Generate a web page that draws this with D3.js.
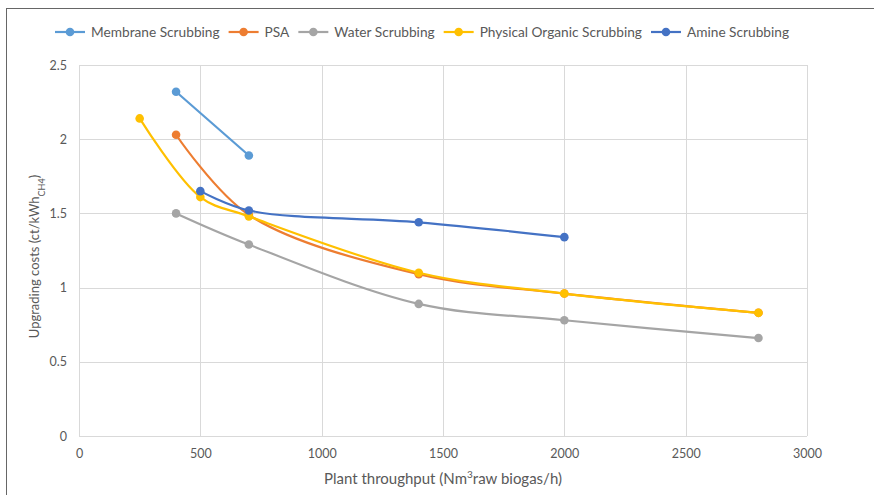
<!DOCTYPE html>
<html><head><meta charset="utf-8">
<script src="https://cdn.jsdelivr.net/npm/d3@7"></script>
<style>body{margin:0;background:#fff}svg{display:block}</style>
</head><body>
<svg id="c" width="874" height="495"></svg>
<script>
const seriesNames = ["Membrane Scrubbing","PSA","Water Scrubbing","Physical Organic Scrubbing","Amine Scrubbing"];
const seriesColors = ["#5B9BD5","#ED7D31","#A5A5A5","#FFC000","#4472C4"];
const membraneX = [400,700];
const membraneY = [2.32,1.89];
const psaX = [400,700,1400,2000,2800];
const psaY = [2.03,1.49,1.09,0.96,0.83];
const waterX = [400,700,1400,2000,2800];
const waterY = [1.50,1.29,0.89,0.78,0.66];
const organicX = [250,500,700,1400,2000,2800];
const organicY = [2.14,1.61,1.48,1.10,0.96,0.83];
const amineX = [500,700,1400,2000];
const amineY = [1.65,1.52,1.44,1.34];
const xTicks = [0,500,1000,1500,2000,2500,3000];
const yTicks = [0,0.5,1,1.5,2,2.5];

const seriesData = [
  [membraneX,membraneY],[psaX,psaY],[waterX,waterY],[organicX,organicY],[amineX,amineY]
].map(([xs,ys],i)=>({name:seriesNames[i],color:seriesColors[i],pts:xs.map((x,j)=>({x,y:ys[j]}))}));

const svg = d3.select("#c");
const font = "Lato, 'Open Sans', sans-serif";
svg.append("rect").attr("x",6.5).attr("y",8.5).attr("width",900).attr("height",600)
  .attr("fill","none").attr("stroke","#666").attr("stroke-width",1);

const L=79,R=807,T=65,B=436;
const x = d3.scaleLinear().domain([0,3000]).range([L,R]);
const y = d3.scaleLinear().domain([0,2.5]).range([B,T]);

const g = svg.append("g");
g.selectAll(".gx").data(xTicks).join("line")
  .attr("x1",d=>Math.round(x(d))+0.5).attr("x2",d=>Math.round(x(d))+0.5)
  .attr("y1",T).attr("y2",B).attr("stroke","#d9d9d9").attr("stroke-width",1);
g.selectAll(".gy").data(yTicks).join("line")
  .attr("y1",d=>Math.round(y(d))+0.5).attr("y2",d=>Math.round(y(d))+0.5)
  .attr("x1",L).attr("x2",R).attr("stroke","#d9d9d9").attr("stroke-width",1);

const xAxis = svg.append("g").attr("transform",`translate(0,${B+0.5})`)
  .call(d3.axisBottom(x).tickValues(xTicks).tickSize(0).tickPadding(13).tickFormat(d3.format("d")));
const yAxis = svg.append("g").attr("transform",`translate(${L},0)`)
  .call(d3.axisLeft(y).tickValues(yTicks).tickSize(0).tickPadding(12).tickFormat(d=>String(d)));
[xAxis,yAxis].forEach(a=>{
  a.select(".domain").remove();
  a.selectAll("text").attr("fill","#595959").style("font-family",font).style("font-size","12.5px");
});

const line = d3.line().x(d=>x(d.x)).y(d=>y(d.y)).curve(d3.curveCatmullRom.alpha(0.5));
const sg = svg.append("g");
seriesData.forEach(s=>{
  sg.append("path").datum(s.pts).attr("d",line).attr("fill","none")
    .attr("stroke",s.color).attr("stroke-width",2.2).attr("stroke-linecap","round");
  sg.selectAll(null).data(s.pts).join("circle").attr("cx",d=>x(d.x)).attr("cy",d=>y(d.y))
    .attr("r",4.3).attr("fill",s.color);
});

const yt = svg.append("text").attr("transform",`translate(39,${(T+B)/2 + 6}) rotate(-90)`)
  .attr("text-anchor","middle").attr("fill","#595959").style("font-family",font).style("font-size","13px");
yt.append("tspan").text("Upgrading costs (ct/kWh");
yt.append("tspan").attr("baseline-shift","sub").style("font-size","9px").text("CH4");
yt.append("tspan").text(")");
const xt = svg.append("text").attr("x",443).attr("y",484)
  .attr("text-anchor","middle").attr("fill","#595959").style("font-family",font).style("font-size","15px");
xt.append("tspan").text("Plant throughput (Nm");
xt.append("tspan").attr("baseline-shift","super").style("font-size","10px").text("3");
xt.append("tspan").text("raw biogas/h)");

const lg = svg.append("g");
let lx = 55;
seriesData.forEach(s=>{
  const it = lg.append("g").attr("transform",`translate(${lx},32)`);
  it.append("line").attr("x1",0).attr("x2",30).attr("y1",0).attr("y2",0).attr("stroke",s.color).attr("stroke-width",2.2);
  it.append("circle").attr("cx",15).attr("cy",0).attr("r",4.3).attr("fill",s.color);
  const t = it.append("text").attr("x",36).attr("y",4.5).attr("fill","#595959")
    .style("font-family",font).style("font-size","13.7px").text(s.name);
  lx += 36 + t.node().getComputedTextLength() + 9;
});
</script>
</body></html>
